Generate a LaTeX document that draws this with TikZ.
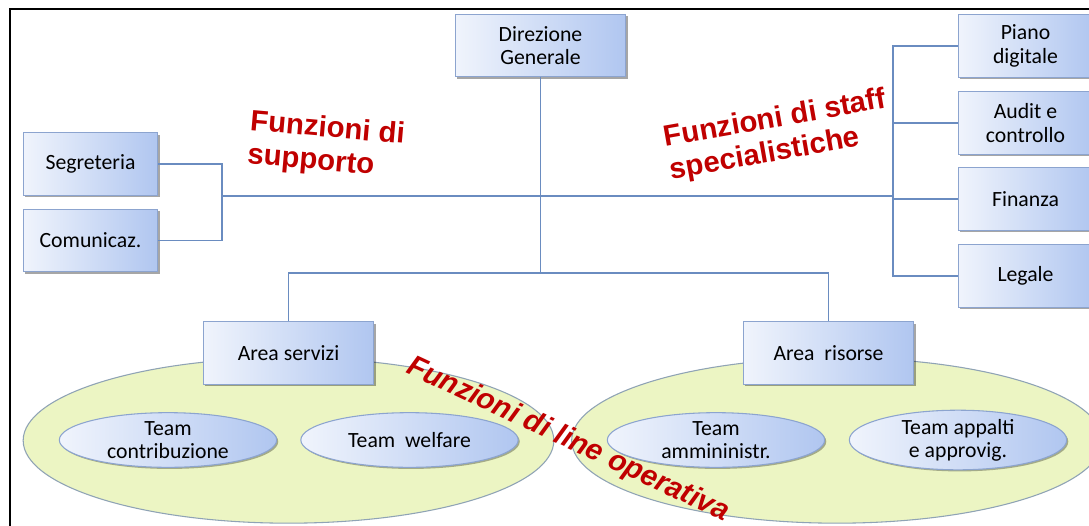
\documentclass[tikz,border=0pt]{standalone}
\usepackage{fontspec}
\setmainfont{Carlito}
\newfontfamily\arialf{Liberation Sans}
\usetikzlibrary{shapes.geometric,shadows}
\definecolor{boxL}{HTML}{F0F4FC}
\definecolor{boxR}{HTML}{B0C6F0}
\definecolor{boxB}{HTML}{8CA4CF}
\definecolor{conn}{HTML}{6A8CC0}
\definecolor{bigfill}{HTML}{ECF5C3}
\definecolor{bigdraw}{HTML}{8FA3B5}
\definecolor{redt}{HTML}{C00000}
\begin{document}
\begin{tikzpicture}[x=0.75pt,y=-0.75pt,
  orgbox/.style={draw=boxB, line width=0.8pt, left color=boxL, right color=boxR,
    minimum width=#1, minimum height=47pt, inner sep=0pt, align=center,
    font=\fontsize{16.3}{17.5}\selectfont,
    drop shadow={shadow xshift=1.5pt, shadow yshift=-1.5pt, opacity=0.35, fill=black}},
  orgbox/.default=128pt,
  teamell/.style={ellipse, draw=boxB, line width=0.8pt, left color=boxL, right color=boxR,
    minimum width=163pt, minimum height=41pt, inner sep=0pt, align=center,
    font=\fontsize{16.3}{17.5}\selectfont,
    drop shadow={shadow xshift=1.2pt, shadow yshift=-1.2pt, opacity=0.3, fill=black}},
  bigell/.style={ellipse, draw=bigdraw, line width=0.8pt, fill=bigfill,
    minimum width=398pt, minimum height=124pt, inner sep=0pt},
  conline/.style={draw=conn, line width=0.9pt},
  redlbl/.style={text=redt, align=left, font=\arialf\bfseries\fontsize{22}{25}\selectfont},
]
\useasboundingbox (0,0) rectangle (1089,525);
\fill[white] (0,0) rectangle (1089,525);

% frame
\draw[line width=1.6pt] (10,526) -- (10,9) -- (1095,9);

% big ellipses
\node[bigell] (EL) at (288.5,440.5) {};
\node[bigell] (ER) at (837,440.5) {};

% coordinates
\coordinate (hubL) at (222,196);
\coordinate (hubR) at (893,196);
\coordinate (low) at (540.5,273);

% boxes
\node[orgbox] (DG) at (540.5,45.5) {Direzione\\Generale};
\node[orgbox=101pt] (Seg) at (90.5,164) {Segreteria};
\node[orgbox=101pt] (Com) at (90.5,240.5) {Comunicaz.};
\node[orgbox=101pt] (Piano) at (1025.5,46) {Piano\\digitale};
\node[orgbox=101pt] (Audit) at (1025.5,123) {Audit e\\controllo};
\node[orgbox=101pt] (Fin) at (1025.5,199) {Finanza};
\node[orgbox=101pt] (Leg) at (1025.5,276) {Legale};
\node[orgbox] (AS) at (288.5,353) {Area servizi};
\node[orgbox] (AR) at (828.5,353) {Area\ \ risorse};

% inner ellipses
\node[teamell] (T1) at (168,440) {Team\\contribuzione};
\node[teamell] (T2) at (409.5,440) {Team\ \ welfare};
\node[teamell] (T3) at (716,440) {Team\\ammininistr.};
\node[teamell] (T4) at (958,440) {Team appalti\\e approvig.};

% connectors
\draw[conline] (hubL) -- (hubR);
\draw[conline] (DG.south) -- (low);
\draw[conline] (AS.north) -- (AS.north |- low) -- (AR.north |- low) -- (AR.north);
\draw[conline] (Seg.east) -| (hubL);
\draw[conline] (Com.east) -| (hubL);
\draw[conline] (Piano.west) -| (hubR);
\draw[conline] (Leg.west) -| (hubR);
\draw[conline] (Audit.west) -- (Audit.west -| hubR);
\draw[conline] (Fin.west) -- (Fin.west -| hubR);

% red labels
\node[redlbl, rotate=-5] (L1) at (326,146) {Funzioni di\\supporto};
\node[redlbl, rotate=10] (L2) at (778,136) {Funzioni di staff\\specialistiche};
\node[redlbl, rotate=-25, font=\arialf\bfseries\itshape\fontsize{22}{25}\selectfont] (L3) at (568,440) {Funzioni di line operativa};
\end{tikzpicture}
\end{document}
